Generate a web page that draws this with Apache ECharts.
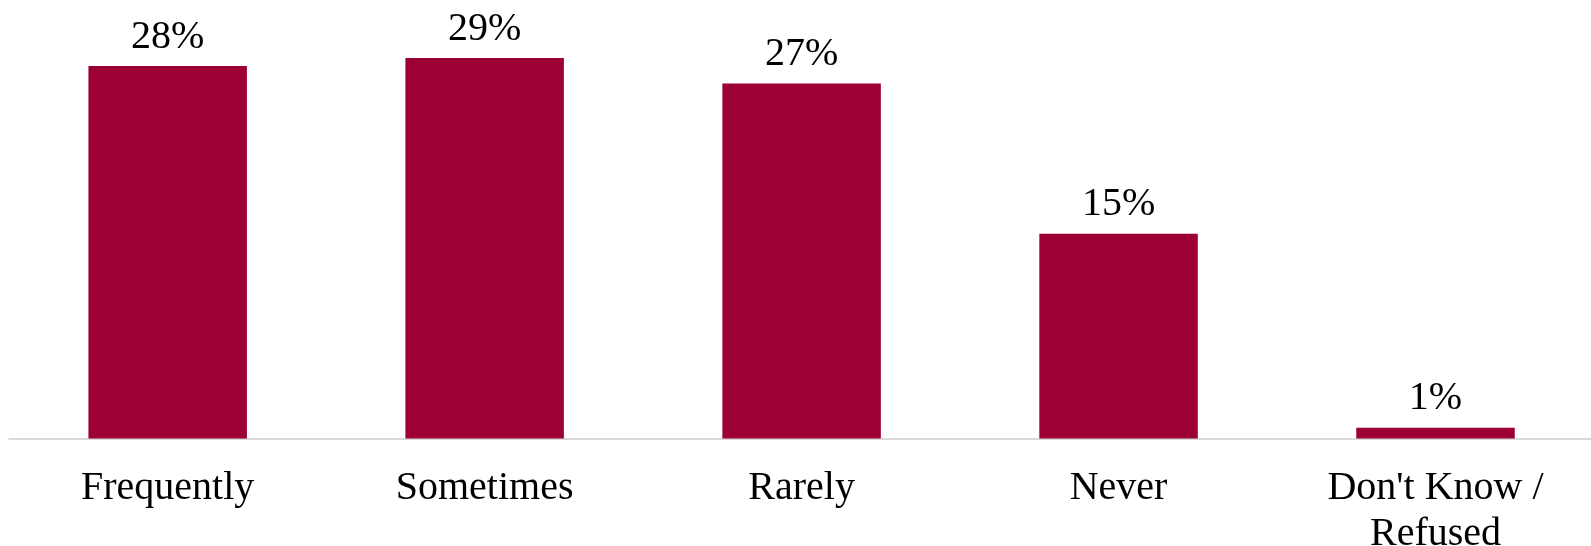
<!DOCTYPE html>
<html>
<head>
<meta charset="utf-8">
<script src="https://cdn.jsdelivr.net/npm/echarts@6/dist/echarts.min.js"></script>
<style>
html,body{margin:0;padding:0;background:#fff;}
#chart{width:1591px;height:546px;}
</style>
</head>
<body>
<div id="chart"></div>
<script>
const categories = ["Frequently", "Sometimes", "Rarely", "Never", "Don't Know /\nRefused"];
const values = [28.0, 28.6, 26.7, 15.4, 0.8];

const chart = echarts.init(document.getElementById('chart'), null, {renderer: 'canvas'});
chart.setOption({
  animation: false,
  grid: {left: 9.2, right: -3, top: 12.9, bottom: 107.5, containLabel: false, outerBoundsMode: 'none'},
  xAxis: {
    type: 'category',
    data: categories,
    axisLine: {lineStyle: {color: '#D9D9D9', width: 2}},
    axisTick: {show: false},
    axisLabel: {
      interval: 0,
      margin: 27,
      color: '#000',
      fontFamily: 'Liberation Serif',
      fontSize: 40,
      lineHeight: 46
    }
  },
  yAxis: {
    type: 'value',
    min: 0,
    max: 32,
    show: false,
    splitLine: {show: false}
  },
  series: [{
    type: 'bar',
    data: values,
    barWidth: '50%',
    itemStyle: {color: '#9C0034'},
    label: {
      show: true,
      position: 'top',
      distance: 9,
      color: '#000',
      fontFamily: 'Liberation Serif',
      fontSize: 40,
      formatter: p => Math.round(p.value) + '%'
    }
  }]
});
</script>
</body>
</html>
